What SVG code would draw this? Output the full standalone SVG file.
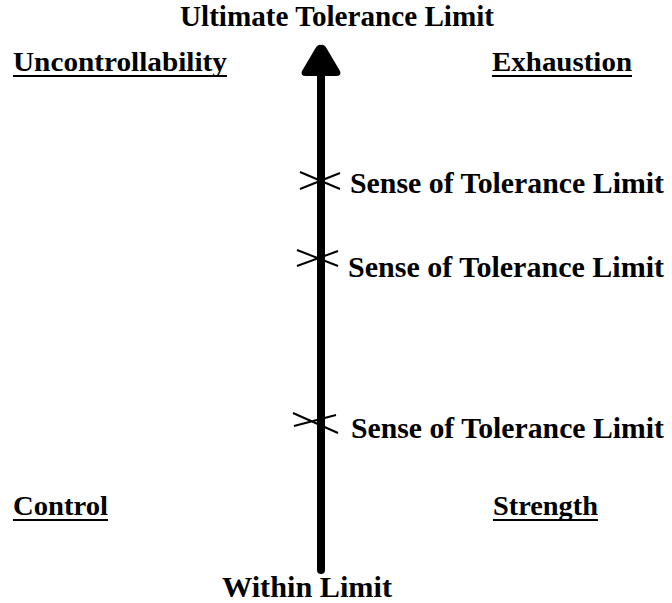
<svg xmlns="http://www.w3.org/2000/svg" width="672" height="603" viewBox="0 0 672 603">
  <style>
    .t { font-family: "Liberation Serif", "Times New Roman", serif; font-weight: bold; fill: #000; }
    .big { font-size: 30px; }
    .corner { font-size: 27px; }
    .ul { stroke: #000; stroke-width: 2; }
    .tick { stroke: #000; stroke-width: 2; fill: none; }
  </style>
  <rect width="672" height="603" fill="#fff"/>

  <g id="connectors">
    <!-- main vertical shaft -->
    <line x1="321" y1="70" x2="321" y2="570" stroke="#000" stroke-width="8" stroke-linecap="round"/>
    <!-- arrowhead -->
    <path d="M321,45 Q324,44 327,49 L340,71 Q342,76 336,76 L306,76 Q300,76 302,71 L315,49 Q318,44 321,45 Z" fill="#000"/>
  </g>

  <g id="node-top">
    <text class="t big" x="180" y="26" textLength="314" lengthAdjust="spacingAndGlyphs">Ultimate Tolerance Limit</text>
  </g>
  <g id="node-bottom">
    <text class="t big" x="222" y="597" textLength="170" lengthAdjust="spacingAndGlyphs">Within Limit</text>
  </g>

  <g id="node-uncontrollability">
    <text class="t corner" x="13" y="71" textLength="214" lengthAdjust="spacingAndGlyphs">Uncontrollability</text>
    <line class="ul" x1="13" y1="76" x2="227" y2="76"/>
  </g>
  <g id="node-exhaustion">
    <text class="t corner" x="492" y="71" textLength="140" lengthAdjust="spacingAndGlyphs">Exhaustion</text>
    <line class="ul" x1="492" y1="76" x2="632" y2="76"/>
  </g>
  <g id="node-control">
    <text class="t corner" x="13" y="515" textLength="95" lengthAdjust="spacingAndGlyphs">Control</text>
    <line class="ul" x1="13" y1="520" x2="108" y2="520"/>
  </g>
  <g id="node-strength">
    <text class="t corner" x="493" y="515" textLength="105" lengthAdjust="spacingAndGlyphs">Strength</text>
    <line class="ul" x1="493" y1="520" x2="598" y2="520"/>
  </g>

  <g id="node-sense-1">
    <path class="tick" d="M300,172 L340,189 M300,189 L340,173"/>
    <text class="t big" x="350" y="193" textLength="314" lengthAdjust="spacingAndGlyphs">Sense of Tolerance Limit</text>
  </g>
  <g id="node-sense-2">
    <path class="tick" d="M297,250 L338,266 M297,266 L338,251"/>
    <text class="t big" x="348" y="277" textLength="316" lengthAdjust="spacingAndGlyphs">Sense of Tolerance Limit</text>
  </g>
  <g id="node-sense-3">
    <path class="tick" d="M293,413 L338,433 M294,426 L336,415"/>
    <text class="t big" x="351" y="438" textLength="313" lengthAdjust="spacingAndGlyphs">Sense of Tolerance Limit</text>
  </g>
</svg>
